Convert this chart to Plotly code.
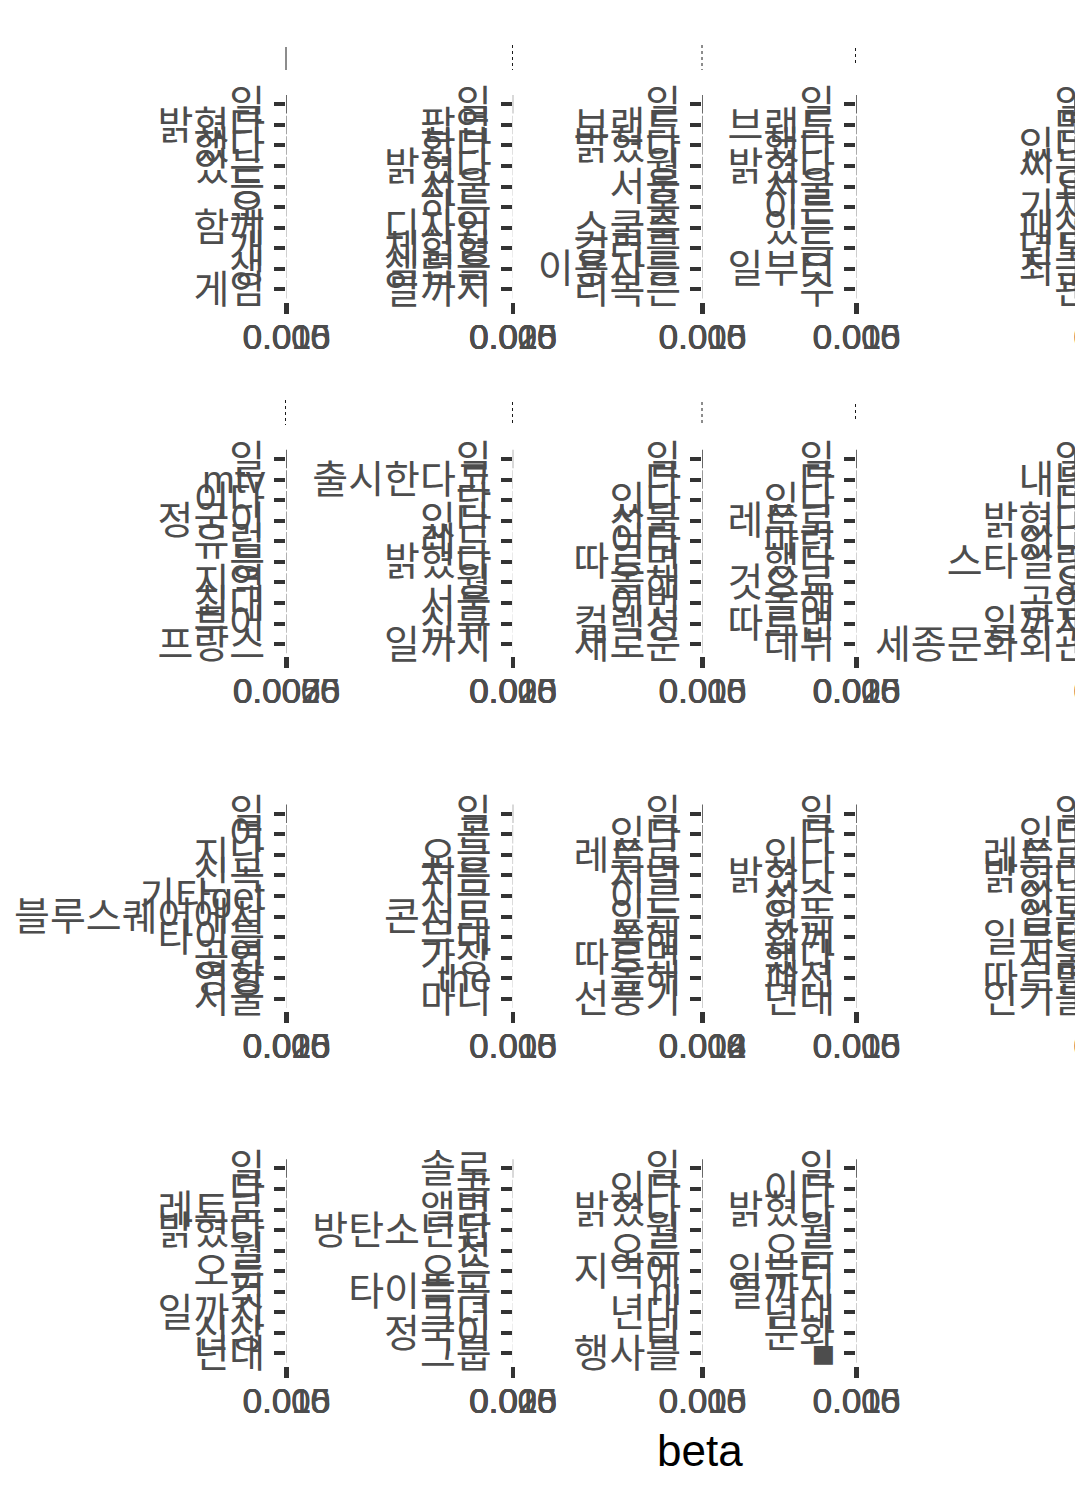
import plotly.graph_objects as go

W, H = 1075, 1496
FONT = "Liberation Sans, Noto Sans CJK KR, sans-serif"

# ---- data: top-10 terms per topic (top -> bottom) and their beta values ----
t01_terms = ["일", "밝혔다", "했다", "있는", "등", "오", "함께", "개", "생", "게임"]
t01_beta = [0.0162, 0.0098, 0.0087, 0.0075, 0.0066, 0.0060, 0.0055, 0.0051, 0.0047, 0.0044]
t02_terms = ["일", "팝업", "한다", "밝혔다", "서울", "하는", "디자인", "체험형", "셀럽들", "일까지"]
t02_beta = [0.0262, 0.0121, 0.0104, 0.0092, 0.0081, 0.0072, 0.0066, 0.0061, 0.0057, 0.0053]
t03_terms = ["일", "브랜드", "밝혔다", "월", "서울", "옷", "스쿨룩", "컬러를", "이용자를", "리복은"]
t03_beta = [0.0158, 0.0112, 0.0090, 0.0079, 0.0068, 0.0061, 0.0056, 0.0052, 0.0049, 0.0046]
t04_terms = ["일", "브랜드", "했다", "밝혔다", "서울", "이른", "있는", "등", "일부터", "수"]
t04_beta = [0.0166, 0.0105, 0.0093, 0.0082, 0.0071, 0.0064, 0.0058, 0.0053, 0.0050, 0.0047]
t05_terms = ["일", "면", "있다", "씨는", "요", "기자", "패션", "년도", "최근", "관"]
t05_beta = [0.0155, 0.0101, 0.0088, 0.0077, 0.0069, 0.0063, 0.0057, 0.0052, 0.0048, 0.0045]
t06_terms = ["일", "mtv", "이다", "정국이", "유럽", "등", "지역", "최대", "투어", "프랑스"]
t06_beta = [0.0079, 0.0062, 0.0055, 0.0049, 0.0045, 0.0041, 0.0038, 0.0036, 0.0034, 0.0032]
t07_terms = ["일", "출시한다고", "단", "있다", "레드", "밝혔다", "월", "서울", "신규", "일까지"]
t07_beta = [0.0258, 0.0118, 0.0101, 0.0090, 0.0080, 0.0073, 0.0067, 0.0062, 0.0058, 0.0054]
t08_terms = ["일", "다", "있다", "선물", "이다", "따르면", "올해", "이번", "컬렉션", "새로운"]
t08_beta = [0.0161, 0.0109, 0.0094, 0.0081, 0.0072, 0.0065, 0.0059, 0.0054, 0.0050, 0.0047]
t09_terms = ["일", "다", "있다", "레트로", "마련", "했다", "것으로", "올해", "따르면", "데뷔"]
t09_beta = [0.0255, 0.0124, 0.0106, 0.0093, 0.0083, 0.0075, 0.0068, 0.0063, 0.0059, 0.0055]
t10_terms = ["일", "내년", "다", "밝혔다", "있다", "스타일링", "오", "공연", "일까지", "세종문화회관"]
t10_beta = [0.0157, 0.0103, 0.0091, 0.0080, 0.0071, 0.0064, 0.0058, 0.0053, 0.0049, 0.0046]
t11_terms = ["일", "여", "지난", "신곡", "기타get", "블루스퀘어에서", "타이틀", "공연", "영향", "서울"]
t11_beta = [0.0260, 0.0119, 0.0102, 0.0090, 0.0081, 0.0073, 0.0067, 0.0062, 0.0058, 0.0054]
t12_terms = ["일", "곡", "오늘", "처음", "지금", "콘서트", "무대", "가장", "the", "마니"]
t12_beta = [0.0159, 0.0107, 0.0092, 0.0081, 0.0072, 0.0065, 0.0059, 0.0054, 0.0050, 0.0047]
t13_terms = ["일", "있다", "레트로", "저녁", "이른", "있는", "통해", "따르면", "올해", "선풍기"]
t13_beta = [0.0127, 0.0088, 0.0076, 0.0067, 0.0060, 0.0055, 0.0050, 0.0046, 0.0043, 0.0040]
t14_terms = ["일", "다", "있다", "밝혔다", "성수", "있는", "함께", "했다", "패션", "년대"]
t14_beta = [0.0163, 0.0108, 0.0093, 0.0082, 0.0073, 0.0066, 0.0060, 0.0055, 0.0051, 0.0048]
t15_terms = ["일", "있다", "레트로", "밝혔다", "있는", "일본", "일부터", "서울", "따르면", "인기를"]
t15_beta = [0.0156, 0.0104, 0.0090, 0.0079, 0.0070, 0.0063, 0.0057, 0.0053, 0.0049, 0.0046]
t16_terms = ["일", "다", "레트로", "밝혔다", "월", "오른", "것", "일까지", "신상", "년대"]
t16_beta = [0.0160, 0.0106, 0.0092, 0.0080, 0.0071, 0.0064, 0.0058, 0.0054, 0.0050, 0.0047]
t17_terms = ["솔로", "곡", "앨범", "방탄소년단", "첫", "오는", "타이틀곡", "그녀", "정국이", "그룹"]
t17_beta = [0.0257, 0.0122, 0.0105, 0.0092, 0.0082, 0.0074, 0.0068, 0.0063, 0.0059, 0.0055]
t18_terms = ["일", "있다", "밝혔다", "월", "오른", "지역에", "hi", "년대", "티", "행사를"]
t18_beta = [0.0158, 0.0105, 0.0091, 0.0080, 0.0071, 0.0064, 0.0058, 0.0053, 0.0049, 0.0046]
t19_terms = ["일", "이다", "밝혔다", "월", "오른", "일부터", "일까지", "년대", "문화", "■"]
t19_beta = [0.0164, 0.0107, 0.0093, 0.0081, 0.0072, 0.0065, 0.0059, 0.0054, 0.0050, 0.0047]

# x-axis break sets (beta)
breaks_a = [0.0, 0.005, 0.010, 0.015]
breaks_b = [0.0, 0.005, 0.010, 0.015, 0.020, 0.025]
breaks_c = [0.0, 0.0025, 0.0050, 0.0075]
breaks_d = [0.0, 0.004, 0.008, 0.012]

panel_terms = [t01_terms, t02_terms, t03_terms, t04_terms, t05_terms,
               t06_terms, t07_terms, t08_terms, t09_terms, t10_terms,
               t11_terms, t12_terms, t13_terms, t14_terms, t15_terms,
               t16_terms, t17_terms, t18_terms, t19_terms]
panel_beta = [t01_beta, t02_beta, t03_beta, t04_beta, t05_beta,
              t06_beta, t07_beta, t08_beta, t09_beta, t10_beta,
              t11_beta, t12_beta, t13_beta, t14_beta, t15_beta,
              t16_beta, t17_beta, t18_beta, t19_beta]
panel_breaks = [breaks_a, breaks_b, breaks_a, breaks_a, breaks_a,
                breaks_c, breaks_b, breaks_a, breaks_b, breaks_a,
                breaks_b, breaks_a, breaks_d, breaks_a, breaks_a,
                breaks_a, breaks_b, breaks_a, breaks_a]

# ---- layout geometry (pixels) ----
col_axis_px = [286, 512.5, 702, 856, 1111]
row_top_px = [92, 446.7, 801.4, 1156.1]
panel_h = 209.7
GREY_TXT = "#4d4d4d"
GREY_TICK = "#333333"


def fmt(v, b):
    nd = 4 if any(abs(x * 1000 - round(x * 1000)) > 1e-9 for x in b) else 3
    return f"{v:.{nd}f}"


fig = go.Figure()
layout = dict(
    width=W, height=H, template="none",
    margin=dict(l=0, r=0, t=0, b=0, pad=0, autoexpand=False),
    paper_bgcolor="white", plot_bgcolor="white",
    showlegend=False, bargap=0.1,
    font=dict(family=FONT, color=GREY_TXT),
)

for i, (terms, betas, brk) in enumerate(zip(panel_terms, panel_beta, panel_breaks)):
    r, c = divmod(i, 5)
    n = i + 1
    xa, ya = ("x", "y") if n == 1 else (f"x{n}", f"y{n}")
    xk, yk = ("xaxis", "yaxis") if n == 1 else (f"xaxis{n}", f"yaxis{n}")
    fig.add_trace(go.Bar(x=betas, y=terms, orientation="h", xaxis=xa, yaxis=ya,
                         marker=dict(color="#595959", line=dict(width=0)),
                         hoverinfo="skip"))
    offscreen = c == 4
    ax_px = min(col_axis_px[c], W - 1)
    x0 = ax_px / W
    dom_x = [x0, min(x0 + 1.0 / W, 1.0)]
    top = row_top_px[r]
    dom_y = [1 - (top + panel_h) / H, 1 - top / H]
    shift = int(round(col_axis_px[c] - ax_px))
    m = max(betas)
    tickc = "rgba(0,0,0,0)" if offscreen else GREY_TICK
    layout[yk] = dict(
        domain=dom_y, anchor=xa, type="category",
        categoryorder="array", categoryarray=terms[::-1],
        range=[-0.6, 9.6], tickmode="array", tickvals=terms, ticktext=terms,
        ticks="outside", ticklen=11, tickwidth=4, tickcolor=tickc,
        tickfont=dict(size=39, color=GREY_TXT, family=FONT),
        ticklabelstandoff=int(1 - shift), ticklabeloverflow="allow",
        showgrid=False, zeroline=False, showline=False, automargin=False,
        fixedrange=True,
    )
    layout[xk] = dict(
        domain=dom_x, anchor=ya, range=[-0.05 * m, 1.05 * m],
        tickmode="array", tickvals=brk, ticktext=[fmt(v, brk) for v in brk],
        tickangle=0, ticks="outside", ticklen=11, tickwidth=4, tickcolor=tickc,
        tickfont=dict(size=35, color=GREY_TXT, family=FONT),
        ticklabelstandoff=-7,
        ticklabelshift=int(shift + 6) if offscreen else 0, ticklabeloverflow="allow",
        showgrid=False, zeroline=False, showline=False, automargin=False,
        fixedrange=True,
    )

# clipped strip labels (thin slices of the facet numbers)
strip_specs = [
    (286, 47, 70, "solid"), (512.5, 45, 70, "dot"), (702, 45, 70, "dot"), (855.5, 48, 64, "dot"),
    (285.5, 400, 425, "dot"), (512.5, 402, 425, "dot"), (702, 402, 425, "dot"), (855.5, 404, 421, "dot"),
]
shapes = []
for x, y0, y1, dash in strip_specs:
    shapes.append(dict(type="line", xref="paper", yref="paper",
                       x0=x / W, x1=x / W, y0=1 - y0 / H, y1=1 - y1 / H,
                       line=dict(color="#1a1a1a", width=1, dash=dash)))
layout["shapes"] = shapes
layout["annotations"] = [dict(text="beta", x=700 / W, y=1 - 1450 / H, xref="paper", yref="paper",
                              xanchor="center", yanchor="middle", showarrow=False,
                              font=dict(size=44, color="black", family=FONT))]

fig.update_layout(**layout)
fig.write_html("out.html", config={"displayModeBar": False, "staticPlot": True})
